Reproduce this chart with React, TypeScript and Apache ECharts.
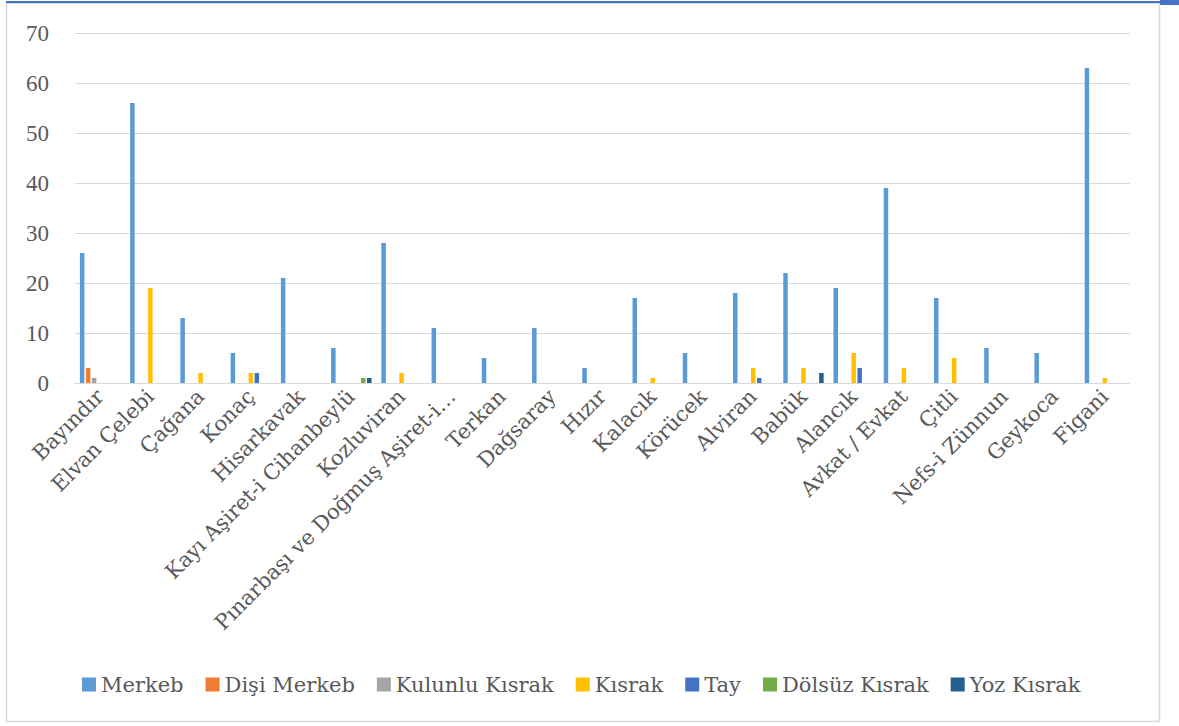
import React, { useEffect, useRef } from "react";
import * as echarts from "echarts";

const categories = [
  "Bayındır", "Elvan Çelebi", "Çağana", "Konaç", "Hisarkavak",
  "Kayı Aşiret-i Cihanbeylü", "Kozluviran", "Pınarbaşı ve Doğmuş Aşiret-i…",
  "Terkan", "Dağsaray", "Hızır", "Kalacık", "Körücek", "Alviran", "Babük",
  "Alancık", "Avkat / Evkat", "Çitli", "Nefs-i Zünnun", "Geykoca", "Figani",
];

const merkeb = [26, 56, 13, 6, 21, 7, 28, 11, 5, 11, 3, 17, 6, 18, 22, 19, 39, 17, 7, 6, 63];
const disiMerkeb = [3, 0, 0, 0, 0, 0, 0, 0, 0, 0, 0, 0, 0, 0, 0, 0, 0, 0, 0, 0, 0];
const kulunluKisrak = [1, 0, 0, 0, 0, 0, 0, 0, 0, 0, 0, 0, 0, 0, 0, 0, 0, 0, 0, 0, 0];
const kisrak = [0, 19, 2, 2, 0, 0, 2, 0, 0, 0, 0, 1, 0, 3, 3, 6, 3, 5, 0, 0, 1];
const tay = [0, 0, 0, 2, 0, 0, 0, 0, 0, 0, 0, 0, 0, 1, 0, 3, 0, 0, 0, 0, 0];
const dolsuzKisrak = [0, 0, 0, 0, 0, 1, 0, 0, 0, 0, 0, 0, 0, 0, 0, 0, 0, 0, 0, 0, 0];
const yozKisrak = [0, 0, 0, 0, 0, 1, 0, 0, 0, 0, 0, 0, 0, 0, 2, 0, 0, 0, 0, 0, 0];

const seriesDefs = [
  { name: "Merkeb", data: merkeb, color: "#5B9BD5" },
  { name: "Dişi Merkeb", data: disiMerkeb, color: "#ED7D31" },
  { name: "Kulunlu Kısrak", data: kulunluKisrak, color: "#A5A5A5" },
  { name: "Kısrak", data: kisrak, color: "#FFC000" },
  { name: "Tay", data: tay, color: "#4472C4" },
  { name: "Dölsüz Kısrak", data: dolsuzKisrak, color: "#70AD47" },
  { name: "Yoz Kısrak", data: yozKisrak, color: "#255E91" },
];

const yTicks = { min: 0, max: 70, interval: 10 };

export default function App() {
  const ref = useRef<HTMLDivElement>(null);
  useEffect(() => {
    if (!ref.current) return;
    const chart = echarts.init(ref.current, undefined, { renderer: "svg" });
    const font = "DejaVu Serif";
    chart.setOption({
      animation: false,
      backgroundColor: "#ffffff",
      textStyle: { fontFamily: font },
      grid: { left: 75, right: 49, top: 33, bottom: 343, containLabel: false },
      xAxis: {
        type: "category",
        data: categories,
        axisLine: { lineStyle: { color: "#d9d9d9", width: 1 } },
        axisTick: { show: false },
        axisLabel: {
          rotate: 45,
          interval: 0,
          margin: 10,
          color: "#595959",
          fontSize: 21,
          fontFamily: font,
        },
      },
      yAxis: {
        type: "value",
        min: yTicks.min,
        max: yTicks.max,
        interval: yTicks.interval,
        axisLine: { show: false },
        axisTick: { show: false },
        splitLine: { lineStyle: { color: "#d9d9d9", width: 1 } },
        axisLabel: { color: "#595959", fontSize: 23, fontFamily: "Liberation Serif", margin: 26 },
      },
      legend: {
        top: 674,
        left: 82,
        padding: 0,
        icon: "rect",
        itemWidth: 14,
        itemHeight: 14,
        itemGap: 22,
        textStyle: { color: "#595959", fontSize: 21, fontFamily: font },
        data: seriesDefs.map((s) => s.name),
      },
      series: seriesDefs.map((s) => ({
        name: s.name,
        type: "bar",
        data: s.data,
        barWidth: 4.5,
        barGap: "33%",
        itemStyle: { color: s.color },
      })),
      graphic: [
        {
          type: "rect",
          shape: { x: 6.5, y: 3.5, width: 1153, height: 718 },
          style: { fill: "none", stroke: "#d9d9d9", lineWidth: 1.5 },
          silent: true,
        },
        {
          type: "line",
          shape: { x1: 6, y1: 2, x2: 1179, y2: 2 },
          style: { stroke: "#4472C4", lineWidth: 2 },
          silent: true,
        },
        {
          type: "rect",
          shape: { x: 1160, y: 0, width: 19, height: 5 },
          style: { fill: "#4472C4" },
          silent: true,
        },
      ],
    });
    return () => chart.dispose();
  }, []);
  return (
    <div
      ref={ref}
      style={{ position: "fixed", left: 0, top: 0, width: 1179, height: 726 }}
    />
  );
}
